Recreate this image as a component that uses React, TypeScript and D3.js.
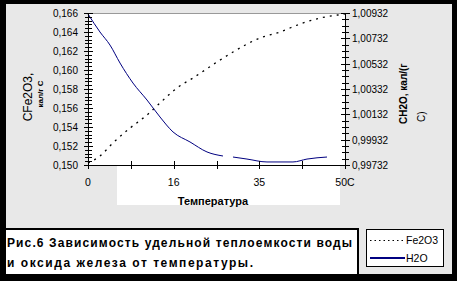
import React from "react";
import * as d3 from "d3";

// Temperature (°C) and specific heat of Fe2O3 (left axis)
const tempFe2O3 = [0, 2.33, 4.86, 8.17, 11.48, 14.01, 17.32, 20.43, 25.1, 28.21, 33.46, 37.35, 41.25, 45.14, 48.64, 50];
const heatFe2O3 = [0.1502, 0.15095, 0.15232, 0.15389, 0.15526, 0.15653, 0.15811, 0.15916, 0.16084, 0.16189, 0.16337, 0.164, 0.16484, 0.16547, 0.16579, 0.1659];

// Temperature (°C) and specific heat of H2O (right axis); NaN marks the gap in the trace
const tempH2O = [0, 2.33, 4.28, 6.23, 8.75, 11.48, 14.01, 16.54, 19.84, 23.15, 26.26, 27.2, 28.21, 30.93, 34.82, 39.88, 42.61, 46.5];
const heatH2O = [1.00924, 1.00782, 1.00679, 1.00537, 1.00379, 1.00245, 1.00111, 0.99993, 0.99914, 0.99835, 0.99803, NaN, 0.99795, 0.99779, 0.99756, 0.99756, 0.99779, 0.99795];

const xTickValues = [0, 50 / 6, 100 / 6, 25, 200 / 6, 250 / 6, 50];
const xTickLabels = ["0", "", "16", "", "35", "", "50C"];
const leftTickValues = [0.15, 0.152, 0.154, 0.156, 0.158, 0.16, 0.162, 0.164, 0.166];
const leftTickLabels = ["0,150", "0,152", "0,154", "0,156", "0,158", "0,160", "0,162", "0,164", "0,166"];
const rightTickValues = [0.99732, 0.99932, 1.00132, 1.00332, 1.00532, 1.00732, 1.00932];
const rightTickLabels = ["0,99732", "0,99932", "1,00132", "1,00332", "1,00532", "1,00732", "1,00932"];

const seriesNames = ["Fe2O3", "H2O"];
const captionLines = ["Рис.6 Зависимость удельной теплоемкости воды", "и оксида железа от температуры."];
const xTitle = "Температура";
const leftTitle = ["CFe2O3,", "кал/г С"];
const rightTitle = ["CH2O, кал/(г", "С)"];

const FONT = "'Liberation Sans', Arial, sans-serif";

export default function App() {
  const W = 457, H = 281;
  const P = { l: 88, r: 345, t: 13, b: 165 };
  const x = d3.scaleLinear().domain([0, 50]).range([P.l, P.r]);
  const yL = d3.scaleLinear().domain([0.15, 0.166]).range([P.b, P.t]);
  const yR = d3.scaleLinear().domain([0.99732, 1.00932]).range([P.b, P.t]);

  const feLine = d3.line<number>()
    .x((_, i) => x(tempFe2O3[i]))
    .y((d) => yL(d))
    .curve(d3.curveMonotoneX)(heatFe2O3) || "";
  const h2oLine = d3.line<number>()
    .defined((d) => !isNaN(d))
    .x((_, i) => x(tempH2O[i]))
    .y((d) => yR(d))
    .curve(d3.curveMonotoneX)(heatH2O) || "";

  const minor = (vals: number[], n: number) => {
    const out: number[] = [];
    for (let i = 0; i < vals.length - 1; i++) {
      for (let k = 1; k < n; k++) out.push(vals[i] + ((vals[i + 1] - vals[i]) * k) / n);
    }
    return out;
  };
  const leftMinor = minor(leftTickValues, 5);
  const rightMinor = minor(rightTickValues, 4);

  return (
    <div style={{ position: "fixed", left: 0, top: 0 }}>
      <svg width={W} height={H} style={{ display: "block" }} fontFamily={FONT}>
        <rect x={0} y={0} width={W} height={H} fill="#000" />
        <rect x={6} y={4} width={446} height={270} fill="#e8e8e8" />
        <rect x={117} y={P.b} width={223} height={40} fill="#fff" />
        <rect x={P.l} y={P.t} width={P.r - P.l} height={P.b - P.t} fill="#fff" />
        <line x1={P.l} x2={P.r} y1={P.t + 0.5} y2={P.t + 0.5} stroke="#999" />

        {/* series */}
        <path d={feLine} fill="none" stroke="#000" strokeWidth={1.3} strokeDasharray="2,5" />
        <path d={h2oLine} fill="none" stroke="#000080" strokeWidth={1} />

        {/* axes lines */}
        <line x1={P.l + 0.5} x2={P.l + 0.5} y1={P.t} y2={P.b} stroke="#000" />
        <line x1={P.r + 0.5} x2={P.r + 0.5} y1={P.t} y2={P.b} stroke="#000" />
        <line x1={P.l} x2={P.r + 1} y1={P.b + 0.5} y2={P.b + 0.5} stroke="#000" />

        {/* left ticks */}
        {leftTickValues.map((v, i) => (
          <g key={"lt" + i}>
            <line x1={P.l - 4} x2={P.l + 5} y1={Math.round(yL(v)) + 0.5} y2={Math.round(yL(v)) + 0.5} stroke="#000" />
            <text x={78} y={yL(v) + 4} fontSize={10} textAnchor="end" fill="#000">{leftTickLabels[i]}</text>
          </g>
        ))}
        {leftMinor.map((v, i) => (
          <line key={"lm" + i} x1={P.l - 3} x2={P.l + 4} y1={Math.round(yL(v)) + 0.5} y2={Math.round(yL(v)) + 0.5} stroke="#000" />
        ))}

        {/* right ticks */}
        {rightTickValues.map((v, i) => (
          <g key={"rt" + i}>
            <line x1={P.r - 4} x2={P.r + 5} y1={Math.round(yR(v)) + 0.5} y2={Math.round(yR(v)) + 0.5} stroke="#000" />
            <text x={352} y={yR(v) + 4} fontSize={10} textAnchor="start" fill="#000">{rightTickLabels[i]}</text>
          </g>
        ))}
        {rightMinor.map((v, i) => (
          <line key={"rm" + i} x1={P.r - 3} x2={P.r + 4} y1={Math.round(yR(v)) + 0.5} y2={Math.round(yR(v)) + 0.5} stroke="#000" />
        ))}

        {/* x ticks */}
        {xTickValues.map((v, i) => (
          <g key={"xt" + i}>
            <line x1={Math.round(x(v)) + 0.5} x2={Math.round(x(v)) + 0.5} y1={P.b - 4} y2={P.b + 4} stroke="#000" />
            <text x={x(v)} y={186} fontSize={10.5} textAnchor="middle" fill="#000">{xTickLabels[i]}</text>
          </g>
        ))}

        {/* axis titles */}
        <text x={213} y={205} fontSize={11} fontWeight="bold" textAnchor="middle" fill="#000">{xTitle}</text>
        <g transform="translate(32,97) rotate(-90)">
          <text x={0} y={0} fontSize={12} textAnchor="middle" fill="#000">{leftTitle[0]}</text>
          <text x={3} y={11} fontSize={8} fontWeight="bold" textAnchor="middle" fill="#000">{leftTitle[1]}</text>
        </g>
        <g transform="translate(407,124) rotate(-90)">
          <text x={0} y={0} fontSize={10} fontWeight="bold" textAnchor="start" fill="#000">{rightTitle[0]}</text>
          <text x={2} y={18} fontSize={10} textAnchor="start" fill="#000">{rightTitle[1]}</text>
        </g>

        {/* caption */}
        <rect x={5} y={229} width={353} height={46} fill="#fff" stroke="#000" strokeWidth={2} />
        <text x={7} y={247} fontSize={12} fontWeight="bold" fill="#000" textLength={345} lengthAdjust="spacing">{captionLines[0]}</text>
        <text x={7} y={267} fontSize={12} fontWeight="bold" fill="#000" textLength={246} lengthAdjust="spacing">{captionLines[1]}</text>

        {/* legend */}
        <rect x={366.5} y={229.5} width={77} height={37} fill="#fff" stroke="#000" />
        <line x1={370} x2={405} y1={240.5} y2={240.5} stroke="#000" strokeDasharray="1.5,3" />
        <text x={406} y={244} fontSize={10.5} fill="#000">{seriesNames[0]}</text>
        <line x1={370} x2={405} y1={258} y2={258} stroke="#000080" strokeWidth={2} />
        <text x={406} y={262} fontSize={10.5} fill="#000">{seriesNames[1]}</text>
      </svg>
    </div>
  );
}
